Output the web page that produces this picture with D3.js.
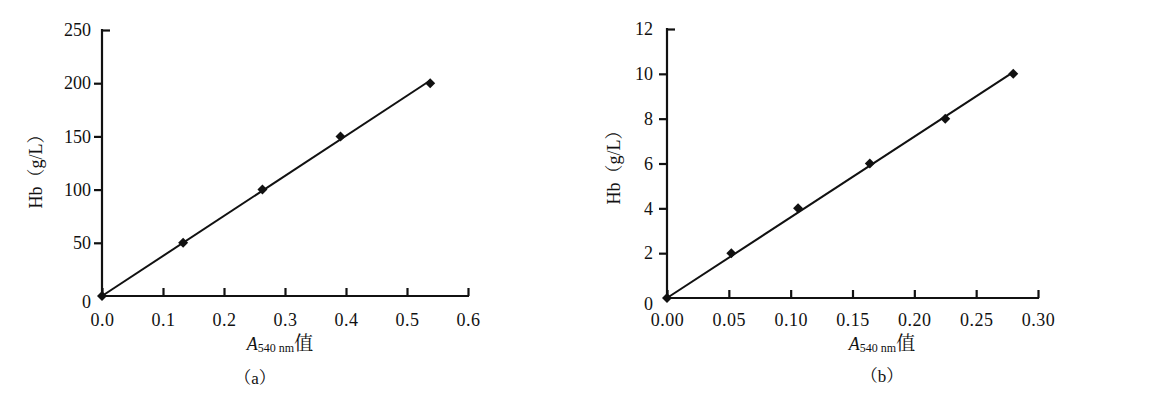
<!DOCTYPE html>
<html>
<head>
<meta charset="utf-8">
<script src="https://cdn.jsdelivr.net/npm/d3@7"></script>
<style>
  html, body { margin: 0; padding: 0; background: #fff; }
  svg { display: block; }
  text { font-family: "Liberation Serif", "Times New Roman", serif; fill: #111; }
  .cjk { font-family: "Noto Serif CJK SC", "Noto Sans CJK SC", serif; }
</style>
</head>
<body>
<svg id="chart" width="1172" height="397"></svg>
<script>
// ---- Data ----
// Panel (a)
const absA = [0, 0.133, 0.263, 0.391, 0.538];
const hbA = [0, 50, 100, 150, 200];
const xTicksA = [0, 0.1, 0.2, 0.3, 0.4, 0.5, 0.6];
const xTickLabelsA = ["0.0", "0.1", "0.2", "0.3", "0.4", "0.5", "0.6"];
const yTicksA = [0, 50, 100, 150, 200, 250];

// Panel (b)
const absB = [0, 0.052, 0.106, 0.164, 0.225, 0.280];
const hbB = [0, 2, 4, 6, 8, 10];
const xTicksB = [0, 0.05, 0.10, 0.15, 0.20, 0.25, 0.30];
const xTickLabelsB = ["0.00", "0.05", "0.10", "0.15", "0.20", "0.25", "0.30"];
const yTicksB = [0, 2, 4, 6, 8, 10, 12];

const yTitleParts = ["Hb", "（", "g/L", "）"];
const captionLetters = ["a", "b"];

const svg = d3.select("#chart");

// trend line through origin (Excel "intercept = 0")
function slopeThroughOrigin(xs, ys) {
  const sxy = d3.sum(xs, (d, i) => d * ys[i]);
  const sxx = d3.sum(xs, d => d * d);
  return sxy / sxx;
}

function drawPanel(cfg) {
  const g = svg.append("g");
  const x = d3.scaleLinear().domain(cfg.xDomain).range(cfg.xRange);
  const y = d3.scaleLinear().domain(cfg.yDomain).range(cfg.yRange);

  // X axis (ticks pointing up/inside)
  const xAxis = g.append("g")
    .attr("transform", `translate(0,${cfg.yRange[0]})`)
    .call(d3.axisBottom(x).tickValues(cfg.xTicks)
      .tickFormat((d, i) => cfg.xTickLabels[i])
      .tickSizeInner(-8).tickSizeOuter(0).tickPadding(cfg.xPad));
  xAxis.attr("font-family", null);
  xAxis.select(".domain").attr("stroke", "#111").attr("stroke-width", 2.2)
    .attr("d", `M${cfg.xRange[0] - 1},0H${cfg.xRange[1] + 1}`);
  xAxis.selectAll(".tick line").attr("stroke", "#111").attr("stroke-width", 2.2);
  xAxis.selectAll(".tick text").attr("font-size", 18).attr("fill", "#111")
    .style("letter-spacing", "0.5px");

  // Y axis (ticks outside, top tick inside)
  const yAxis = g.append("g")
    .attr("transform", `translate(${cfg.xRange[0]},0)`)
    .call(d3.axisLeft(y).tickValues(cfg.yTicks)
      .tickSizeInner(8).tickSizeOuter(0).tickPadding(cfg.yPad));
  yAxis.attr("font-family", null);
  yAxis.select(".domain").attr("stroke", "#111").attr("stroke-width", 2.2)
    .attr("d", `M0,${cfg.yRange[0] + 1}V${cfg.yRange[1] - 1}`);
  yAxis.selectAll(".tick line").attr("stroke", "#111").attr("stroke-width", 2.2)
    .attr("x2", d => d === cfg.yDomain[1] ? 8 : (d === 0 ? 0 : -8));
  yAxis.selectAll(".tick text").attr("font-size", 18).attr("fill", "#111")
    .attr("dy", d => d === 0 ? "0.62em" : "0.32em");

  // Trend line
  const k = slopeThroughOrigin(cfg.xs, cfg.ys);
  g.append("path")
    .datum([0, d3.max(cfg.xs)])
    .attr("fill", "none").attr("stroke", "#111").attr("stroke-width", 2)
    .attr("d", d3.line().x(d => x(d)).y(d => y(k * d)));

  // Diamond markers
  const h = 5;
  g.selectAll(".pt").data(cfg.xs.map((d, i) => [d, cfg.ys[i]]))
    .join("path").attr("class", "pt")
    .attr("transform", d => `translate(${x(d[0])},${y(d[1])})`)
    .attr("d", `M0,${-h}L${h},0L0,${h}L${-h},0Z`)
    .attr("fill", "#111");

  // Y axis title
  const yt = g.append("text")
    .attr("transform", `translate(${cfg.yTitleX},${cfg.yTitleY}) rotate(-90)`)
    .attr("text-anchor", "middle").attr("dy", "0.35em")
    .attr("font-size", 18).attr("fill", "#222");
  yTitleParts.forEach(p => {
    const s = yt.append("tspan").text(p);
    if (p === "（" || p === "）") s.attr("class", "cjk");
  });

  // X axis title: A540 nm值
  const t = g.append("text")
    .attr("x", cfg.xTitleX).attr("y", cfg.xTitleY)
    .attr("text-anchor", "middle");
  t.append("tspan").attr("font-style", "italic").attr("font-size", 18).text("A");
  t.append("tspan").attr("font-size", 12).attr("dy", 2).text("540 nm");
  t.append("tspan").attr("class", "cjk").attr("font-size", 19).attr("dy", -2).text("值");

  // Caption
  const c = g.append("text")
    .attr("x", cfg.capX).attr("y", cfg.capY)
    .attr("text-anchor", "middle").attr("font-size", 17);
  c.append("tspan").attr("class", "cjk").text("（");
  c.append("tspan").text(cfg.caption);
  c.append("tspan").attr("class", "cjk").text("）");
}

drawPanel({
  xs: absA, ys: hbA,
  xDomain: [0, 0.6], xRange: [102, 468],
  yDomain: [0, 250], yRange: [296, 30],
  xTicks: xTicksA, xTickLabels: xTickLabelsA, yTicks: yTicksA,
  xPad: 17, yPad: 3,
  yTitleX: 36, yTitleY: 167,
  xTitleX: 280, xTitleY: 350,
  capX: 255, capY: 384,
  caption: captionLetters[0]
});

drawPanel({
  xs: absB, ys: hbB,
  xDomain: [0, 0.3], xRange: [667, 1038],
  yDomain: [0, 12], yRange: [298, 29],
  xTicks: xTicksB, xTickLabels: xTickLabelsB, yTicks: yTicksB,
  xPad: 15, yPad: 6,
  yTitleX: 614, yTitleY: 163,
  xTitleX: 882, xTitleY: 350,
  capX: 882, capY: 382,
  caption: captionLetters[1]
});
</script>
</body>
</html>
